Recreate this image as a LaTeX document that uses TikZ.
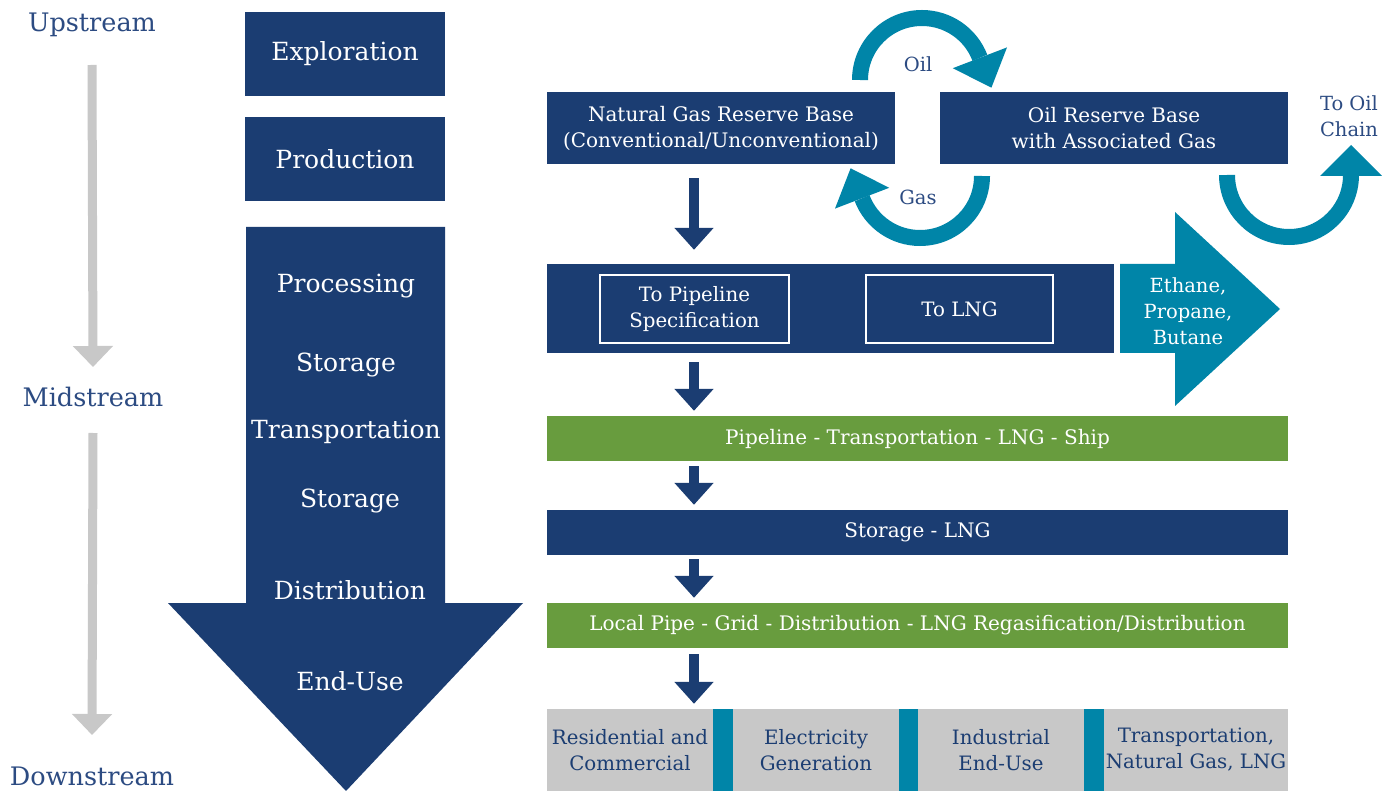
\documentclass[tikz,border=0pt]{standalone}
\usepackage{fontspec}
\setmainfont{DejaVu Serif}
\usetikzlibrary{calc,arrows.meta}
\definecolor{navy}{RGB}{27,61,114}
\definecolor{tealc}{RGB}{0,133,168}
\definecolor{greenc}{RGB}{104,156,62}
\definecolor{grayc}{RGB}{200,200,200}
\definecolor{arrgray}{RGB}{200,200,200}
\definecolor{labc}{RGB}{44,75,130}
\newcommand\fsz[2]{\fontsize{#1}{#2}\selectfont}
\begin{document}
\begin{tikzpicture}[x=1pt,y=-1pt,
  blk/.style={rectangle, inner sep=0pt, align=center, text=white, font=\fsz{20}{26}},
  navyblk/.style={blk, fill=navy},
  greenblk/.style={blk, fill=greenc},
  grayblk/.style={rectangle, inner sep=0pt, align=center, fill=grayc, text=navy, font=\fsz{19.8}{26}},
  sepblk/.style={rectangle, inner sep=0pt, fill=tealc},
  innerbox/.style={rectangle, inner sep=0pt, align=center, draw=white, line width=2pt, text=white, font=\fsz{19.8}{26}},
  lefttxt/.style={inner sep=0pt, text=white, font=\fsz{25}{28}},
  stagetxt/.style={inner sep=0pt, text=labc, font=\fsz{25.5}{28}},
  labtxt/.style={inner sep=0pt, align=center, text=labc, font=\fsz{19.5}{26}},
  downarr/.style={draw=navy, line width=10pt, -{Triangle[width=38pt,length=22pt]}},
  grayarr/.style={draw=arrgray, line width=9pt, -{Triangle[width=39pt,length=21pt]}},
  tealarc/.style={draw=tealc, line width=16pt}
]
\fill[white] (0,0) rectangle (1382,791);
\useasboundingbox (0,0) rectangle (1382,791);

% stage labels and grey arrows
\node[stagetxt] (up) at (92,25) {Upstream};
\node[stagetxt] (mid) at (93,397) {Midstream};
\node[stagetxt] (down) at (92,776) {Downstream};
\draw[grayarr] ($(up)+(0,40)$) -- ($(mid)+(0,-30)$);
\draw[grayarr] ($(mid)+(0,36)$) -- ($(down)+(0,-41)$);

% left column
\node[navyblk, minimum width=200pt, minimum height=84pt, font=\fsz{25}{28}] (expl) at (345,54) {Exploration};
\node[navyblk, minimum width=200pt, minimum height=84pt, font=\fsz{25}{28}] (prod) at (345,159) {Production};
\fill[navy] (246,227) -- (445,227) -- (445,603) -- (523,603) -- (346,791) -- (168,603) -- (246,603) -- cycle;
\node[lefttxt] (proc) at (346,286) {Processing};
\node[lefttxt] (stor1) at (346,365) {Storage};
\node[lefttxt] (trans) at (346,432) {Transportation};
\node[lefttxt] (stor2) at (350,501) {Storage};
\node[lefttxt] (dist) at (350,590) {Distribution};
\node[lefttxt] (enduse) at (350,681) {End-Use};

% reserve boxes
\node[navyblk, minimum width=348pt, minimum height=72pt] (ngr) at (721,128) {Natural Gas Reserve Base\\(Conventional/Unconventional)};
\node[navyblk, minimum width=348pt, minimum height=72pt] (oilr) at (1114,128) {Oil Reserve Base\\with Associated Gas};

% circular arrows
\draw[tealarc] (860,80) arc[start angle=180, end angle=339, radius=62];
\fill[tealc] (1007,47.4) -- (991.4,87.7) -- (952.8,68.2) -- cycle;
\draw[tealarc] (982,176) arc[start angle=0, end angle=159, radius=62];
\fill[tealc] (835,208.6) -- (850.6,168.3) -- (889.2,187.8) -- cycle;
\draw[tealarc] (1227,175) arc[start angle=180, end angle=0, radius=62];
\fill[tealc] (1320,176) -- (1351,145) -- (1382,176) -- cycle;
\node[labtxt] (oil) at (918,64) {Oil};
\node[labtxt] (gas) at (918,197) {Gas};
\node[labtxt] (tooil) at (1349,116) {To Oil\\Chain};

% processing bar
\node[navyblk, minimum width=567pt, minimum height=89pt] (procbar) at (830.5,308.5) {};
\node[innerbox, minimum width=189pt, minimum height=68pt] (pipespec) at (694.5,309) {To Pipeline\\Specification};
\node[innerbox, minimum width=187pt, minimum height=68pt] (tolng) at (959.5,309) {To LNG};
\fill[tealc] (1120,264) -- (1175,264) -- (1175,212) -- (1280,309) -- (1175,406) -- (1175,353) -- (1120,353) -- cycle;
\node[blk, font=\fsz{19.5}{26}] (ethane) at (1188,311) {Ethane,\\Propane,\\Butane};

% bars
\node[greenblk, minimum width=741pt, minimum height=45pt] (pipe) at (917.5,438.5) {Pipeline - Transportation - LNG - Ship};
\node[navyblk, minimum width=741pt, minimum height=45pt] (storage) at (917.5,532.5) {Storage - LNG};
\node[greenblk, minimum width=741pt, minimum height=45pt] (local) at (917.5,625.5) {Local Pipe - Grid - Distribution - LNG Regasification/Distribution};

% bottom row
\node[grayblk, minimum width=166pt, minimum height=82pt] (res) at (630,750) {Residential and\\Commercial};
\node[sepblk, minimum width=20pt, minimum height=82pt] (sepa) at (723,750) {};
\node[grayblk, minimum width=166pt, minimum height=82pt] (elec) at (816,750) {Electricity\\Generation};
\node[sepblk, minimum width=19pt, minimum height=82pt] (sepb) at (908.5,750) {};
\node[grayblk, minimum width=166pt, minimum height=82pt] (ind) at (1001,750) {Industrial\\End-Use};
\node[sepblk, minimum width=20pt, minimum height=82pt] (sepc) at (1094,750) {};
\node[grayblk, minimum width=184pt, minimum height=82pt] (transp) at (1196,750) {Transportation,\\Natural Gas, LNG};

% down arrows
\coordinate (ax) at (694,0);
\draw[downarr] ($(ax |- ngr.south)+(0,14)$) -- ($(ax |- procbar.north)+(0,-14)$);
\draw[downarr] ($(ax |- procbar.south)+(0,9)$) -- ($(ax |- pipe.north)+(0,-5)$);
\draw[downarr] ($(ax |- pipe.south)+(0,5)$) -- ($(ax |- storage.north)+(0,-5)$);
\draw[downarr] ($(ax |- storage.south)+(0,4)$) -- ($(ax |- local.north)+(0,-5)$);
\draw[downarr] ($(ax |- local.south)+(0,6)$) -- ($(ax |- res.north)+(0,-5)$);
\end{tikzpicture}
\end{document}
